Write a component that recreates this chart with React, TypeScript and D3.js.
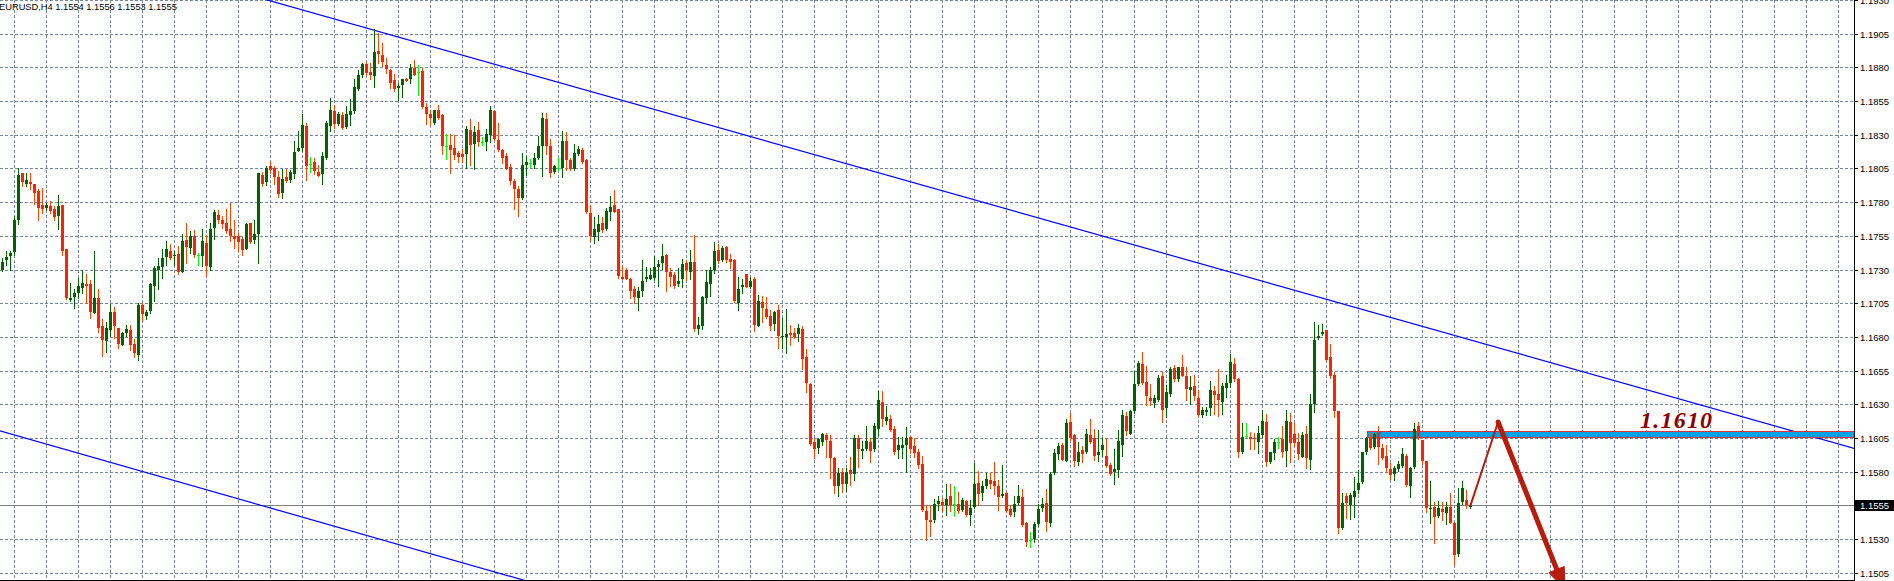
import { useMemo } from "react";
import * as d3 from "d3";

// EURUSD H4 candles (index 0 = leftmost visible bar)
const opens = [
  1.17295, 1.17369, 1.17399, 1.17429, 1.17666, 1.18013, 1.17934, 1.17953, 1.17931, 1.17879,
  1.17780, 1.17755, 1.17768, 1.17750, 1.17696, 1.17780, 1.17449, 1.17077, 1.17095, 1.17127,
  1.17166, 1.17189, 1.17189, 1.16976, 1.17090, 1.16884, 1.16768, 1.16854, 1.16981, 1.16867,
  1.16738, 1.16827, 1.16854, 1.16748, 1.16664, 1.17040, 1.16954, 1.16991, 1.17176, 1.17295,
  1.17320, 1.17394, 1.17441, 1.17399, 1.17416, 1.17280, 1.17520, 1.17461, 1.17550, 1.17411,
  1.17399, 1.17498, 1.17317, 1.17607, 1.17706, 1.17666, 1.17646, 1.17602, 1.17550, 1.17548,
  1.17523, 1.17453, 1.17642, 1.17518, 1.17567, 1.18000, 1.17951, 1.18065, 1.18052, 1.17983,
  1.17867, 1.17983, 1.17966, 1.18010, 1.18181, 1.18201, 1.18362, 1.18080, 1.18095, 1.18020,
  1.18008, 1.18127, 1.18365, 1.18473, 1.18382, 1.18449, 1.18355, 1.18446, 1.18473, 1.18637,
  1.18741, 1.18827, 1.18768, 1.18736, 1.18919, 1.18889, 1.18815, 1.18780, 1.18706, 1.18649,
  1.18671, 1.18716, 1.18716, 1.18798, 1.18765, 1.18773, 1.18506, 1.18456, 1.18384, 1.18481,
  1.18444, 1.18216, 1.18221, 1.18199, 1.18162, 1.18159, 1.18154, 1.18332, 1.18233, 1.18332,
  1.18246, 1.18246, 1.18298, 1.18476, 1.18261, 1.18186, 1.18142, 1.18063, 1.17954, 1.17894,
  1.17830, 1.18075, 1.18092, 1.18075, 1.18129, 1.18216, 1.18419, 1.18216, 1.18023, 1.18055,
  1.18055, 1.18253, 1.18110, 1.18043, 1.18154, 1.18184, 1.18110, 1.17719, 1.17538, 1.17582,
  1.17644, 1.17602, 1.17726, 1.17780, 1.17748, 1.17246, 1.17298, 1.17231, 1.17157, 1.17085,
  1.17144, 1.17228, 1.17233, 1.17238, 1.17322, 1.17345, 1.17409, 1.17283, 1.17258, 1.17196,
  1.17226, 1.17347, 1.17285, 1.17357, 1.16857, 1.16877, 1.17085, 1.17196, 1.17293, 1.17446,
  1.17372, 1.17466, 1.17379, 1.17372, 1.17055, 1.17167, 1.17266, 1.17172, 1.17228, 1.16884,
  1.17058, 1.17006, 1.16956, 1.16894, 1.17001, 1.16798, 1.16798, 1.16828, 1.16828, 1.16820,
  1.16860, 1.16647, 1.16451, 1.16018, 1.15974, 1.16023, 1.16070, 1.16028, 1.15902, 1.15695,
  1.15795, 1.15710, 1.15813, 1.15783, 1.16048, 1.15956, 1.15966, 1.16018, 1.15966, 1.16115,
  1.16319, 1.16173, 1.16193, 1.16119, 1.15958, 1.15973, 1.16000, 1.16057, 1.15993, 1.15946,
  1.15859, 1.15510, 1.15443, 1.15438, 1.15562, 1.15572, 1.15555, 1.15617, 1.15562, 1.15562,
  1.15513, 1.15584, 1.15480, 1.15535, 1.15718, 1.15641, 1.15696, 1.15738, 1.15730, 1.15691,
  1.15617, 1.15641, 1.15523, 1.15498, 1.15565, 1.15612, 1.15419, 1.15295, 1.15300, 1.15414,
  1.15527, 1.15567, 1.15418, 1.15790, 1.15931, 1.15998, 1.15881, 1.16168, 1.16072, 1.15869,
  1.15963, 1.15946, 1.16072, 1.16050, 1.15926, 1.15958, 1.15918, 1.15852, 1.15795, 1.15814,
  1.16000, 1.16210, 1.16082, 1.16253, 1.16453, 1.16597, 1.16468, 1.16349, 1.16309, 1.16334,
  1.16508, 1.16270, 1.16376, 1.16569, 1.16490, 1.16579, 1.16512, 1.16404, 1.16433, 1.16347,
  1.16221, 1.16246, 1.16271, 1.16402, 1.16375, 1.16313, 1.16419, 1.16461, 1.16597, 1.16491,
  1.15949, 1.16065, 1.16058, 1.16053, 1.16023, 1.16073, 1.16167, 1.15870, 1.15937, 1.16023,
  1.16043, 1.15956, 1.16167, 1.16078, 1.16023, 1.15912, 1.16078, 1.15887, 1.16303, 1.16790,
  1.16818, 1.16852, 1.16649, 1.16516, 1.16251, 1.15380, 1.15620, 1.15553, 1.15615, 1.15664,
  1.15726, 1.15942, 1.16053, 1.15986, 1.16092, 1.15979, 1.15917, 1.15818, 1.15783, 1.15818,
  1.15845, 1.15919, 1.15696, 1.15838, 1.16135, 1.16031, 1.15880, 1.15521, 1.15536, 1.15471,
  1.15523, 1.15496, 1.15536, 1.15422, 1.15189, 1.15578, 1.15590, 1.15540,
];

const highs = [
  1.17387, 1.17434, 1.17434, 1.17696, 1.18050, 1.18018, 1.18013, 1.18013, 1.17931, 1.17894,
  1.17906, 1.17795, 1.17810, 1.17770, 1.17850, 1.17780, 1.17449, 1.17201, 1.17152, 1.17238,
  1.17300, 1.17263, 1.17221, 1.17434, 1.17152, 1.16929, 1.16909, 1.17043, 1.17018, 1.16867,
  1.16835, 1.16887, 1.16887, 1.16785, 1.17053, 1.17048, 1.16998, 1.17201, 1.17325, 1.17387,
  1.17449, 1.17508, 1.17491, 1.17434, 1.17473, 1.17560, 1.17646, 1.17587, 1.17590, 1.17419,
  1.17602, 1.17557, 1.17646, 1.17738, 1.17738, 1.17696, 1.17750, 1.17790, 1.17671, 1.17572,
  1.17543, 1.17642, 1.17642, 1.17671, 1.18018, 1.18020, 1.18065, 1.18104, 1.18070, 1.18030,
  1.18045, 1.18045, 1.18035, 1.18250, 1.18325, 1.18453, 1.18387, 1.18134, 1.18124, 1.18075,
  1.18171, 1.18404, 1.18570, 1.18518, 1.18468, 1.18468, 1.18513, 1.18563, 1.18716, 1.18780,
  1.18835, 1.18840, 1.18835, 1.19087, 1.19053, 1.18983, 1.18872, 1.18790, 1.18748, 1.18686,
  1.18716, 1.18718, 1.18822, 1.18852, 1.18820, 1.18798, 1.18533, 1.18481, 1.18485, 1.18518,
  1.18451, 1.18303, 1.18303, 1.18295, 1.18179, 1.18191, 1.18365, 1.18419, 1.18365, 1.18397,
  1.18283, 1.18340, 1.18513, 1.18481, 1.18384, 1.18191, 1.18162, 1.18080, 1.17969, 1.17919,
  1.18167, 1.18142, 1.18122, 1.18167, 1.18290, 1.18459, 1.18459, 1.18266, 1.18075, 1.18124,
  1.18327, 1.18322, 1.18129, 1.18228, 1.18216, 1.18199, 1.18122, 1.17780, 1.17689, 1.17706,
  1.17689, 1.17756, 1.17847, 1.17892, 1.17748, 1.17327, 1.17313, 1.17236, 1.17179, 1.17169,
  1.17372, 1.17318, 1.17310, 1.17402, 1.17372, 1.17491, 1.17417, 1.17310, 1.17283, 1.17310,
  1.17379, 1.17372, 1.17446, 1.17558, 1.16951, 1.17100, 1.17293, 1.17318, 1.17501, 1.17488,
  1.17476, 1.17471, 1.17417, 1.17377, 1.17243, 1.17228, 1.17268, 1.17248, 1.17243, 1.17110,
  1.17100, 1.17095, 1.16996, 1.16993, 1.17038, 1.16939, 1.17006, 1.16889, 1.16865, 1.16897,
  1.16884, 1.16711, 1.16461, 1.16053, 1.16050, 1.16090, 1.16090, 1.16070, 1.15906, 1.15830,
  1.15825, 1.15825, 1.15912, 1.16073, 1.16073, 1.16028, 1.16140, 1.16048, 1.16164, 1.16402,
  1.16396, 1.16285, 1.16223, 1.16136, 1.16055, 1.16055, 1.16131, 1.16062, 1.16050, 1.15970,
  1.15914, 1.15555, 1.15555, 1.15597, 1.15617, 1.15604, 1.15711, 1.15711, 1.15691, 1.15651,
  1.15602, 1.15592, 1.15592, 1.15864, 1.15802, 1.15728, 1.15790, 1.15790, 1.15871, 1.15740,
  1.15847, 1.15646, 1.15555, 1.15617, 1.15703, 1.15671, 1.15423, 1.15354, 1.15428, 1.15562,
  1.15604, 1.15671, 1.15795, 1.15968, 1.16013, 1.16013, 1.16191, 1.16235, 1.16079, 1.16020,
  1.15993, 1.16119, 1.16191, 1.16116, 1.16106, 1.16050, 1.16050, 1.15864, 1.15968, 1.16106,
  1.16255, 1.16240, 1.16260, 1.16549, 1.16619, 1.16691, 1.16582, 1.16453, 1.16371, 1.16517,
  1.16537, 1.16446, 1.16577, 1.16594, 1.16579, 1.16668, 1.16574, 1.16512, 1.16520, 1.16404,
  1.16278, 1.16283, 1.16469, 1.16436, 1.16560, 1.16456, 1.16518, 1.16674, 1.16642, 1.16498,
  1.16159, 1.16164, 1.16097, 1.16085, 1.16135, 1.16258, 1.16226, 1.15949, 1.16040, 1.16060,
  1.16135, 1.16258, 1.16238, 1.16159, 1.16085, 1.16097, 1.16140, 1.16375, 1.16914, 1.16889,
  1.16897, 1.16852, 1.16748, 1.16543, 1.16253, 1.15639, 1.15639, 1.15639, 1.15763, 1.15813,
  1.15949, 1.16055, 1.16085, 1.16090, 1.16135, 1.16006, 1.15998, 1.15862, 1.15842, 1.15882,
  1.15974, 1.15932, 1.15838, 1.16164, 1.16167, 1.16035, 1.15882, 1.15731, 1.15578, 1.15583,
  1.15578, 1.15578, 1.15640, 1.15429, 1.15682, 1.15731, 1.15664, 1.15560,
];

const lows = [
  1.17288, 1.17337, 1.17295, 1.17404, 1.17634, 1.17919, 1.17919, 1.17894, 1.17788, 1.17666,
  1.17721, 1.17745, 1.17721, 1.17666, 1.17597, 1.17406, 1.17082, 1.17065, 1.17013, 1.17090,
  1.17127, 1.17053, 1.16939, 1.16976, 1.16835, 1.16657, 1.16686, 1.16810, 1.16788, 1.16721,
  1.16738, 1.16805, 1.16706, 1.16647, 1.16632, 1.16916, 1.16929, 1.16978, 1.17065, 1.17152,
  1.17238, 1.17337, 1.17379, 1.17337, 1.17263, 1.17280, 1.17349, 1.17424, 1.17396, 1.17337,
  1.17325, 1.17255, 1.17295, 1.17523, 1.17646, 1.17607, 1.17572, 1.17510, 1.17456, 1.17441,
  1.17411, 1.17449, 1.17498, 1.17498, 1.17345, 1.17921, 1.17929, 1.18015, 1.17934, 1.17837,
  1.17830, 1.17951, 1.17951, 1.17978, 1.18178, 1.18181, 1.17966, 1.18025, 1.18008, 1.17991,
  1.17936, 1.18119, 1.18327, 1.18352, 1.18369, 1.18345, 1.18352, 1.18369, 1.18464, 1.18632,
  1.18731, 1.18741, 1.18711, 1.18654, 1.18835, 1.18810, 1.18756, 1.18649, 1.18624, 1.18555,
  1.18580, 1.18696, 1.18681, 1.18741, 1.18595, 1.18496, 1.18382, 1.18374, 1.18380, 1.18414,
  1.18154, 1.18122, 1.18013, 1.18122, 1.18100, 1.18100, 1.18055, 1.18072, 1.18048, 1.18216,
  1.18221, 1.18186, 1.18246, 1.18261, 1.18179, 1.18087, 1.18043, 1.17932, 1.17751, 1.17696,
  1.17825, 1.18001, 1.18060, 1.18055, 1.18117, 1.17993, 1.18154, 1.17988, 1.18013, 1.18038,
  1.17988, 1.18038, 1.18035, 1.18038, 1.18149, 1.18092, 1.17721, 1.17508, 1.17496, 1.17521,
  1.17582, 1.17595, 1.17669, 1.17726, 1.17236, 1.17228, 1.17226, 1.17092, 1.17050, 1.16996,
  1.17107, 1.17211, 1.17228, 1.17223, 1.17174, 1.17303, 1.17144, 1.17174, 1.17164, 1.17174,
  1.17167, 1.17223, 1.17233, 1.16847, 1.16825, 1.16857, 1.17055, 1.17107, 1.17273, 1.17347,
  1.17360, 1.17355, 1.17310, 1.17060, 1.17001, 1.17124, 1.17167, 1.17162, 1.16847, 1.16880,
  1.16907, 1.16939, 1.16852, 1.16852, 1.16716, 1.16716, 1.16679, 1.16741, 1.16790, 1.16773,
  1.16563, 1.16394, 1.15998, 1.15899, 1.15941, 1.15998, 1.15912, 1.15750, 1.15640, 1.15620,
  1.15650, 1.15655, 1.15700, 1.15740, 1.15838, 1.15904, 1.15961, 1.15875, 1.15956, 1.16073,
  1.16141, 1.16156, 1.16104, 1.15933, 1.15901, 1.15901, 1.15795, 1.15938, 1.15906, 1.15824,
  1.15510, 1.15290, 1.15320, 1.15423, 1.15518, 1.15505, 1.15480, 1.15505, 1.15468, 1.15493,
  1.15505, 1.15468, 1.15406, 1.15530, 1.15555, 1.15592, 1.15676, 1.15678, 1.15636, 1.15518,
  1.15612, 1.15500, 1.15468, 1.15473, 1.15555, 1.15394, 1.15245, 1.15240, 1.15277, 1.15394,
  1.15505, 1.15357, 1.15394, 1.15782, 1.15896, 1.15884, 1.15876, 1.16037, 1.15839, 1.15852,
  1.15871, 1.15938, 1.16013, 1.15889, 1.15876, 1.15914, 1.15834, 1.15777, 1.15711, 1.15758,
  1.15914, 1.16074, 1.16082, 1.16235, 1.16446, 1.16453, 1.16297, 1.16297, 1.16280, 1.16322,
  1.16166, 1.16203, 1.16359, 1.16475, 1.16475, 1.16508, 1.16334, 1.16305, 1.16334, 1.16210,
  1.16209, 1.16221, 1.16221, 1.16229, 1.16214, 1.16229, 1.16357, 1.16427, 1.16469, 1.15907,
  1.15937, 1.16055, 1.15966, 1.15966, 1.15937, 1.16060, 1.15845, 1.15862, 1.15892, 1.15974,
  1.15912, 1.15845, 1.15870, 1.15993, 1.15892, 1.15907, 1.15825, 1.15818, 1.16246, 1.16783,
  1.16815, 1.16622, 1.16493, 1.16204, 1.15347, 1.15372, 1.15454, 1.15449, 1.15466, 1.15639,
  1.15719, 1.15932, 1.15966, 1.15974, 1.15857, 1.15894, 1.15800, 1.15746, 1.15739, 1.15808,
  1.15833, 1.15696, 1.15615, 1.15830, 1.16040, 1.15857, 1.15503, 1.15422, 1.15273, 1.15466,
  1.15441, 1.15412, 1.15422, 1.15107, 1.15177, 1.15560, 1.15528, 1.15530,
];

const closes = [
  1.17359, 1.17392, 1.17419, 1.17664, 1.17998, 1.17948, 1.17961, 1.17934, 1.17867, 1.17760,
  1.17750, 1.17780, 1.17731, 1.17689, 1.17768, 1.17436, 1.17087, 1.17092, 1.17122, 1.17181,
  1.17201, 1.17176, 1.16983, 1.17085, 1.16864, 1.16775, 1.16869, 1.16986, 1.16879, 1.16746,
  1.16830, 1.16862, 1.16738, 1.16679, 1.17033, 1.16968, 1.16986, 1.17189, 1.17312, 1.17325,
  1.17389, 1.17449, 1.17384, 1.17411, 1.17285, 1.17508, 1.17466, 1.17548, 1.17411, 1.17411,
  1.17508, 1.17325, 1.17604, 1.17726, 1.17666, 1.17637, 1.17585, 1.17552, 1.17528, 1.17503,
  1.17444, 1.17637, 1.17503, 1.17560, 1.18013, 1.17934, 1.18052, 1.18040, 1.17988, 1.17862,
  1.17971, 1.17958, 1.18020, 1.18171, 1.18201, 1.18372, 1.18070, 1.18080, 1.18028, 1.17996,
  1.18142, 1.18387, 1.18481, 1.18382, 1.18451, 1.18352, 1.18451, 1.18478, 1.18652, 1.18741,
  1.18822, 1.18761, 1.18741, 1.18914, 1.18902, 1.18840, 1.18785, 1.18686, 1.18642, 1.18662,
  1.18711, 1.18699, 1.18793, 1.18746, 1.18765, 1.18503, 1.18454, 1.18421, 1.18481, 1.18421,
  1.18216, 1.18216, 1.18186, 1.18147, 1.18134, 1.18134, 1.18340, 1.18223, 1.18322, 1.18246,
  1.18246, 1.18303, 1.18481, 1.18266, 1.18186, 1.18127, 1.18048, 1.17956, 1.17899, 1.17830,
  1.18075, 1.18100, 1.18092, 1.18129, 1.18216, 1.18426, 1.18216, 1.18018, 1.18068, 1.18055,
  1.18256, 1.18110, 1.18043, 1.18167, 1.18191, 1.18097, 1.17726, 1.17545, 1.17602, 1.17639,
  1.17595, 1.17736, 1.17763, 1.17728, 1.17253, 1.17233, 1.17233, 1.17144, 1.17095, 1.17142,
  1.17216, 1.17246, 1.17258, 1.17320, 1.17342, 1.17402, 1.17283, 1.17243, 1.17179, 1.17216,
  1.17342, 1.17295, 1.17352, 1.16862, 1.16889, 1.17095, 1.17209, 1.17293, 1.17441, 1.17365,
  1.17459, 1.17367, 1.17352, 1.17063, 1.17157, 1.17186, 1.17169, 1.17216, 1.16889, 1.17068,
  1.17011, 1.16946, 1.16884, 1.16986, 1.16803, 1.16810, 1.16823, 1.16815, 1.16798, 1.16865,
  1.16634, 1.16456, 1.16003, 1.15966, 1.16043, 1.16080, 1.16038, 1.15904, 1.15690, 1.15793,
  1.15710, 1.15798, 1.15783, 1.16048, 1.15966, 1.15971, 1.16028, 1.15956, 1.16135, 1.16333,
  1.16191, 1.16203, 1.16111, 1.15943, 1.15995, 1.16000, 1.16050, 1.15968, 1.15938, 1.15849,
  1.15518, 1.15443, 1.15423, 1.15562, 1.15582, 1.15552, 1.15599, 1.15555, 1.15562, 1.15505,
  1.15592, 1.15475, 1.15530, 1.15711, 1.15636, 1.15691, 1.15745, 1.15711, 1.15696, 1.15609,
  1.15631, 1.15505, 1.15480, 1.15560, 1.15621, 1.15406, 1.15277, 1.15295, 1.15414, 1.15523,
  1.15562, 1.15423, 1.15785, 1.15938, 1.15993, 1.15889, 1.16161, 1.16050, 1.15876, 1.15946,
  1.15933, 1.16079, 1.16022, 1.15914, 1.15948, 1.15998, 1.15839, 1.15785, 1.15817, 1.16025,
  1.16220, 1.16099, 1.16253, 1.16453, 1.16606, 1.16458, 1.16359, 1.16327, 1.16349, 1.16495,
  1.16255, 1.16394, 1.16564, 1.16490, 1.16574, 1.16512, 1.16416, 1.16428, 1.16359, 1.16220,
  1.16258, 1.16258, 1.16407, 1.16370, 1.16328, 1.16436, 1.16461, 1.16610, 1.16486, 1.15942,
  1.16058, 1.16065, 1.16040, 1.16040, 1.16090, 1.16177, 1.15870, 1.15944, 1.16018, 1.16023,
  1.15944, 1.16177, 1.16011, 1.16016, 1.15929, 1.16073, 1.15904, 1.16300, 1.16778, 1.16808,
  1.16837, 1.16630, 1.16506, 1.16253, 1.15380, 1.15570, 1.15565, 1.15627, 1.15657, 1.15719,
  1.15942, 1.16048, 1.15974, 1.16078, 1.15986, 1.15904, 1.15825, 1.15776, 1.15830, 1.15860,
  1.15932, 1.15701, 1.15825, 1.16117, 1.16048, 1.15880, 1.15528, 1.15533, 1.15466, 1.15533,
  1.15503, 1.15536, 1.15422, 1.15182, 1.15570, 1.15682, 1.15553, 1.15550,
];

const priceTicks = [
  1.1930, 1.1905, 1.1880, 1.1855, 1.1830, 1.1805, 1.1780, 1.1755, 1.1730,
  1.1705, 1.1680, 1.1655, 1.1630, 1.1605, 1.1580, 1.1555, 1.1530, 1.1505,
];
const currentPrice = 1.1555;
const headerText = "EURUSD,H4  1.1554 1.1556 1.1553 1.1555";

// drawn objects, as [bar index, price]
const channelTop: [number, number][] = [[74.4, 1.19231], [462.9, 1.15973]];
const channelBottom: [number, number][] = [[-0.6, 1.16102], [130.1, 1.14996]];
const zone = { start: 341.1, top: 1.16102, bottom: 1.16055, label: "1.1610", labelAt: [409.4, 1.16124] };
const forecastUp: [number, number][] = [[367, 1.1555], [373.9, 1.16168]];
const forecastDown: [number, number][] = [[373.9, 1.16168], [390.6, 1.14922]];

const W = 1894;
const H = 581;
const PLOT_R = 1854;
const PLOT_B = 580;

const BULL = "#006400";
const BEAR_BODY = "#FF2200";
const BEAR_WICK = "#FF4500";
const DOJI = "#00FF00";
const GRID = "#778899";

export default function App() {
  const x = d3.scaleLinear().domain([0, 463]).range([2.5, 1854.5]);
  const y = d3.scaleLinear().domain([1.193, 1.193 - H / 13475]).range([0, H]);

  const candles = useMemo(
    () => closes.map((c, i) => ({ i, o: opens[i], h: highs[i], l: lows[i], c })),
    []
  );

  const vGrid = d3.range(0, 58).map((k) => x(3 + 8 * k));

  const extend = (pts: [number, number][]) => {
    const s = d3.scaleLinear().domain([pts[0][0], pts[1][0]]).range([pts[0][1], pts[1][1]]);
    return [
      [x(-20), y(s(-20))],
      [x(480), y(s(480))],
    ] as [number, number][];
  };
  const line = d3.line();

  const up = forecastUp.map(([i, p]) => [x(i), y(p)] as [number, number]);
  const down = forecastDown.map(([i, p]) => [x(i), y(p)] as [number, number]);
  const [p0, p1] = down;
  const len = Math.hypot(p1[0] - p0[0], p1[1] - p0[1]);
  const ux = (p1[0] - p0[0]) / len;
  const uy = (p1[1] - p0[1]) / len;
  const headL = 22;
  const headW = 8;
  const bx = p1[0] - ux * headL;
  const by = p1[1] - uy * headL;
  const head = [
    [p1[0], p1[1]],
    [bx + uy * headW, by - ux * headW],
    [bx - uy * headW, by + ux * headW],
  ] as [number, number][];

  const curY = Math.round(y(currentPrice)) + 0.5;

  return (
    <svg
      width={W}
      height={H}
      style={{ position: "absolute", left: 0, top: 0, background: "#fff" }}
      shapeRendering="crispEdges"
    >
      <defs>
        <clipPath id="plot">
          <rect x={0} y={0} width={PLOT_R} height={PLOT_B} />
        </clipPath>
      </defs>
      <rect x={0} y={0} width={W} height={H} fill="#fff" />

      {/* grid */}
      <g stroke={GRID} strokeWidth={1} strokeDasharray="3,2">
        {priceTicks.map((p) => {
          const yy = Math.round(y(p)) + 0.5;
          return <line key={p} x1={0} x2={PLOT_R} y1={yy} y2={yy} />;
        })}
        {vGrid.map((xx) => (
          <line key={xx} x1={xx} x2={xx} y1={0} y2={PLOT_B} />
        ))}
      </g>

      {/* current price line */}
      <line x1={0} x2={PLOT_R} y1={curY} y2={curY} stroke="#808080" strokeWidth={1} />

      <g clipPath="url(#plot)">
        {/* channel */}
        <g shapeRendering="auto">
          <path d={line(extend(channelTop)) ?? ""} stroke="#0000FF" strokeWidth={1.2} fill="none" />
          <path d={line(extend(channelBottom)) ?? ""} stroke="#0000FF" strokeWidth={1.2} fill="none" />
        </g>

        {/* resistance zone */}
        <rect
          x={Math.round(x(zone.start)) + 0.5}
          y={Math.round(y(zone.top)) + 0.5}
          width={PLOT_R - Math.round(x(zone.start))}
          height={Math.round(y(zone.bottom)) - Math.round(y(zone.top))}
          fill="#00A2E8"
          stroke="#E0303A"
          strokeWidth={1}
        />

        {/* candles */}
        {candles.map((d) => {
          const cx = x(d.i);
          const yh = Math.round(y(d.h));
          const yl = Math.round(y(d.l));
          const yo = Math.round(y(d.o));
          const yc = Math.round(y(d.c));
          const doji = d.o === d.c;
          const bull = d.c > d.o;
          const wick = doji ? DOJI : bull ? BULL : BEAR_WICK;
          const top = Math.min(yo, yc);
          const bot = Math.max(yo, yc);
          return (
            <g key={d.i}>
              <rect x={cx - 0.5} y={yh} width={1} height={Math.max(1, yl - yh + 1)} fill={wick} />
              {doji ? (
                <rect x={cx - 1.5} y={yc} width={3} height={1} fill={DOJI} />
              ) : (
                <rect
                  x={cx - 1.5}
                  y={top}
                  width={3}
                  height={Math.max(1, bot - top)}
                  fill={bull ? BULL : BEAR_BODY}
                />
              )}
            </g>
          );
        })}

        {/* forecast arrow */}
        <g shapeRendering="auto" fill="none" stroke="#B81C0C" strokeLinecap="round">
          <path d={line(up) ?? ""} strokeWidth={2} />
          <path d={line([p0, [bx, by]]) ?? ""} strokeWidth={5} />
          <path d={line(head) + "Z"} fill="#B81C0C" strokeWidth={1} />
        </g>

        <text
          x={x(zone.labelAt[0] as number)}
          y={y(zone.labelAt[1] as number)}
          fontFamily="'Liberation Serif', 'Times New Roman', serif"
          fontWeight="bold"
          fontStyle="italic"
          fontSize={24}
          letterSpacing={1.2}
          fill="#8B0000"
        >
          {zone.label}
        </text>
      </g>

      {/* header */}
      <text x={-1} y={10} fontFamily="'Liberation Sans', Arial, sans-serif" fontSize={9.3} fill="#000">
        {headerText}
      </text>

      {/* price axis */}
      <line x1={PLOT_R + 0.5} x2={PLOT_R + 0.5} y1={0} y2={PLOT_B + 1} stroke="#000" />
      <line x1={0} x2={PLOT_R + 1} y1={PLOT_B + 0.5} y2={PLOT_B + 0.5} stroke="#000" />
      <g fontFamily="'Liberation Sans', Arial, sans-serif" fontSize={9.5} fill="#000">
        {priceTicks.map((p) => {
          const yy = Math.round(y(p)) + 0.5;
          return (
            <g key={p}>
              <line x1={PLOT_R + 1} x2={PLOT_R + 4} y1={yy} y2={yy} stroke="#000" />
              <text x={1860} y={yy} dominantBaseline="central">
                {p.toFixed(4)}
              </text>
            </g>
          );
        })}
      </g>
      <rect x={PLOT_R + 1} y={curY - 5.5} width={W - PLOT_R - 1} height={11} fill="#000" />
      <text
        x={1860}
        y={curY}
        dominantBaseline="central"
        fontFamily="'Liberation Sans', Arial, sans-serif"
        fontSize={9.5}
        fill="#fff"
      >
        {currentPrice.toFixed(4)}
      </text>
    </svg>
  );
}
